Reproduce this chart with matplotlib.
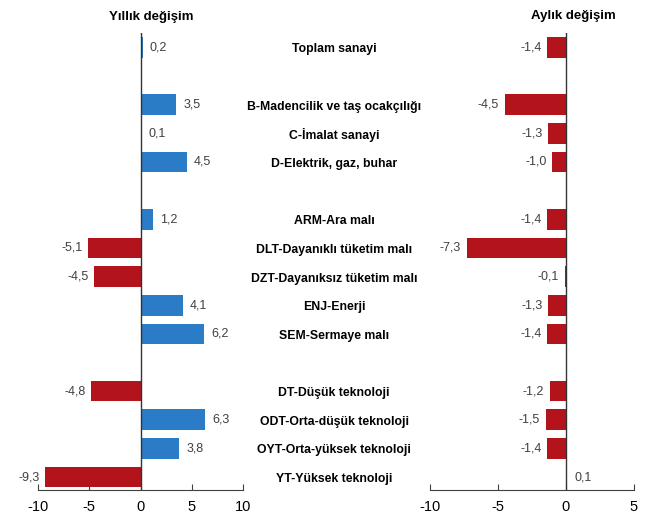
import matplotlib
matplotlib.use("Agg")
import matplotlib.pyplot as plt

categories = ["Toplam sanayi", "B-Madencilik ve taş ocakçılığı", "C-İmalat sanayi",
              "D-Elektrik, gaz, buhar", "ARM-Ara malı", "DLT-Dayanıklı tüketim malı",
              "DZT-Dayanıksız tüketim malı", "ENJ-Enerji", "SEM-Sermaye malı",
              "DT-Düşük teknoloji", "ODT-Orta-düşük teknoloji", "OYT-Orta-yüksek teknoloji",
              "YT-Yüksek teknoloji"]
slots = [0, 2, 3, 4, 6, 7, 8, 9, 10, 12, 13, 14, 15]
yearly = [0.2, 3.5, 0.1, 4.5, 1.2, -5.1, -4.5, 4.1, 6.2, -4.8, 6.3, 3.8, -9.3]
monthly = [-1.4, -4.5, -1.3, -1.0, -1.4, -7.3, -0.1, -1.3, -1.4, -1.2, -1.5, -1.4, 0.1]
yearly_ticks = [-10, -5, 0, 5, 10]
monthly_ticks = [-10, -5, 0, 5]

plt.rcParams['font.family'] = ['Liberation Sans', 'DejaVu Sans']
BLUE = '#2b7cc7'
RED = '#b3141b'
TXT = '#404040'

fig = plt.figure(figsize=(6.48, 5.18), dpi=100)
ax1 = fig.add_axes([38/648, 28/518, 205/648, 457/518])
ax2 = fig.add_axes([430/648, 28/518, 204/648, 457/518])

def draw(ax, vals, xlim, ticks):
    colors = [BLUE if v >= 0 else RED for v in vals]
    ax.barh(slots, vals, height=0.72, color=colors, zorder=2)
    ax.set_xlim(*xlim)
    ax.set_ylim(15.45, -0.5)
    for s, v in zip(slots, vals):
        lab = f"{v:.1f}".replace('.', ',')
        if v >= 0:
            ax.annotate(lab, (v, s), xytext=(5, 0), textcoords='offset points',
                        ha='left', va='center', fontsize=9, color=TXT)
        else:
            ax.annotate(lab, (v, s), xytext=(-4, 0), textcoords='offset points',
                        ha='right', va='center', fontsize=9, color=TXT)
    for sp in ['top', 'right', 'left']:
        ax.spines[sp].set_visible(False)
    ax.spines['bottom'].set_color('#404040')
    ax.spines['bottom'].set_linewidth(0.8)
    ax.axvline(0, color='#333333', lw=1.0, zorder=3)
    ax.set_yticks([])
    ax.set_xticks(ticks)
    ax.set_xticklabels([str(t) for t in ticks])
    ax.tick_params(axis='x', direction='in', length=4, width=0.8, color='#404040',
                   labelsize=10.5, labelcolor='black', pad=7.5)

draw(ax1, yearly, (-10, 10), yearly_ticks)
draw(ax2, monthly, (-10, 5), monthly_ticks)

for c, s in zip(categories, slots):
    y = ax1.transData.transform((0, s))[1] - 2
    fig.text(334/648, y/518, c, ha='center', va='center', fontsize=8.8,
             fontweight='bold', color='black')

fig.text(151/648, 1 - 17/518, "Yıllık değişim", ha='center', va='center',
         fontsize=9.5, fontweight='bold')
fig.text(573/648, 1 - 16/518, "Aylık değişim", ha='center', va='center',
         fontsize=9.5, fontweight='bold')

fig.savefig("out.png", dpi=100)
